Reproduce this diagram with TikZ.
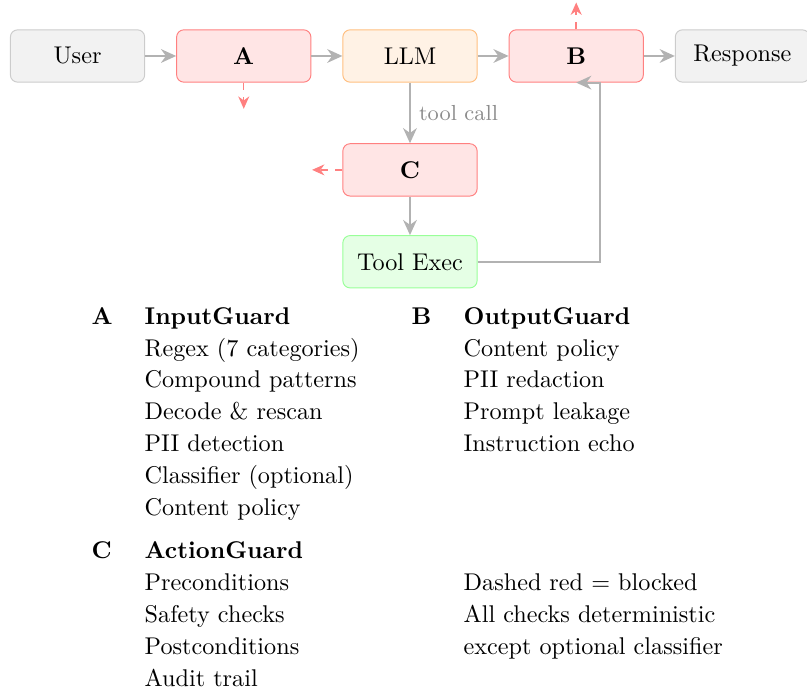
\documentclass[tikz,border=0pt]{standalone}
\usetikzlibrary{positioning,arrows.meta}
\begin{document}
\begin{tikzpicture}[
  box/.style={draw,rounded corners=3pt,minimum width=1.95cm,minimum height=0.76cm},
  plain/.style={box,fill=gray!10,draw=gray!40},
  guard/.style={box,fill=red!10,draw=red!50,font=\bfseries},
  flow/.style={thick,gray!60,-{Stealth[length=2.2mm,width=2mm]}},
  blocked/.style={semithick,dashed,red!50,-{Stealth[length=1.8mm,width=1.6mm]}},
  node distance=0.45cm]
\useasboundingbox (0,0) rectangle (11.72,-10.065);
% pipeline
\node[plain] (user) at (1.126,-0.813) {User};
\node[guard,right=of user] (A) {A};
\node[box,fill=orange!10,draw=orange!50,right=of A] (llm) {LLM};
\node[guard,right=of llm] (B) {B};
\node[plain,right=of B] (resp) {Response};
\node[guard,below=0.88cm of llm] (C) {C};
\node[box,fill=green!10,draw=green!40,below=0.56cm of C] (tool) {Tool Exec};
\draw[flow] (user) -- (A);
\draw[flow] (A) -- (llm);
\draw[flow] (llm) -- (B);
\draw[flow] (B) -- (resp);
\draw[flow] (llm) -- node[right,font=\small,text=gray!90] (tc) {tool call} (C);
\draw[flow] (C) -- (tool);
\draw[flow] (tool.east) -| ([xshift=0.35cm]B.south) -- (B.south);
% blocked paths
\coordinate[below=0.38cm of A] (Aout);
\coordinate[above=0.39cm of B] (Bout);
\coordinate[left=0.44cm of C] (Cout);
\draw[blocked] (A) -- (Aout);
\draw[blocked] (B) -- (Bout);
\draw[blocked] (C) -- (Cout);
% legend
\node[anchor=north west,inner sep=0pt] (legend) at (1.325,-4.375) {%
\renewcommand{\arraystretch}{1.1}%
\begin{tabular}{@{}p{21.9pt}@{}p{110.3pt}@{}p{21.5pt}@{}l@{}}
\textbf{A} & \textbf{InputGuard} & \textbf{B} & \textbf{OutputGuard}\\
 & Regex (7 categories) & & Content policy\\
 & Compound patterns & & PII redaction\\
 & Decode \& rescan & & Prompt leakage\\
 & PII detection & & Instruction echo\\
 & Classifier (optional) & & \\
 & Content policy & & \\[4.5pt]
\textbf{C} & \textbf{ActionGuard} & & \\
 & Preconditions & & Dashed red $=$ blocked\\
 & Safety checks & & All checks deterministic\\
 & Postconditions & & except optional classifier\\
 & Audit trail & & \\
\end{tabular}};
\end{tikzpicture}
\end{document}
